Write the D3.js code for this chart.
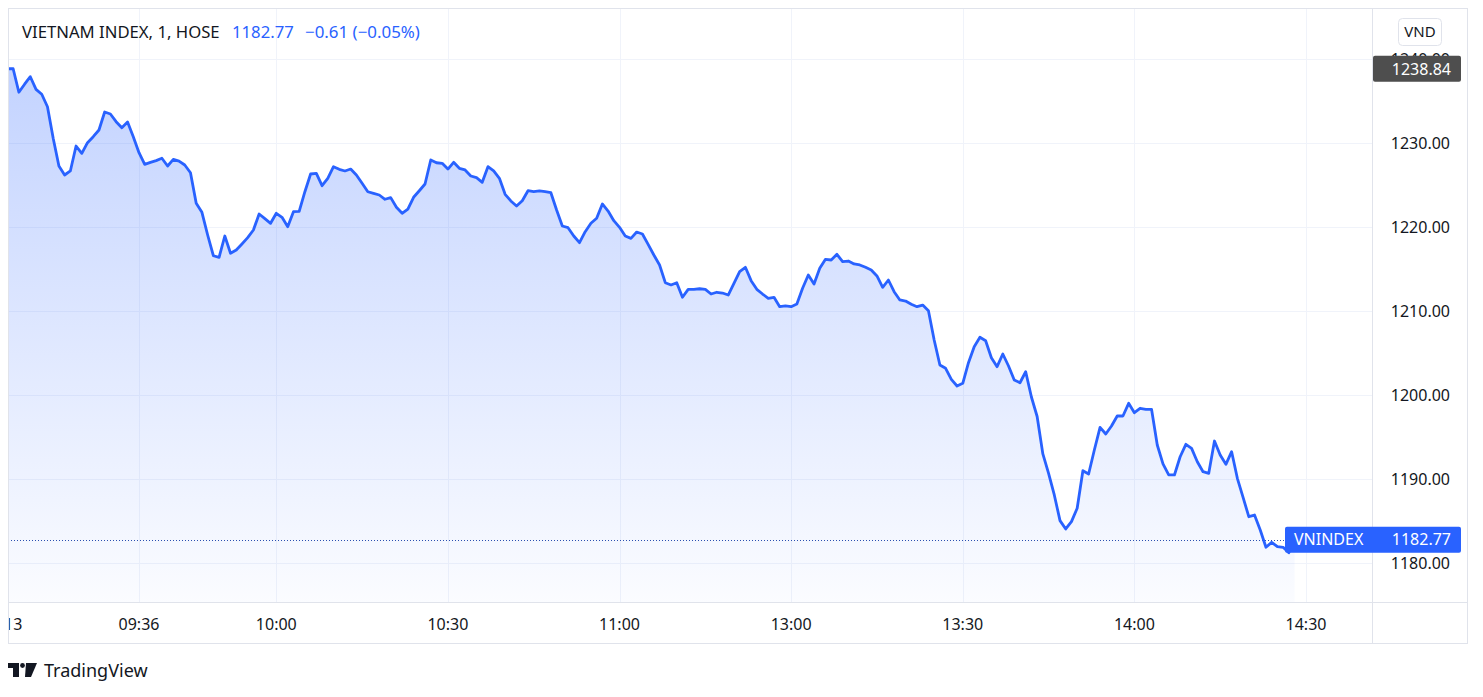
<!DOCTYPE html>
<html>
<head>
<meta charset="utf-8">
<script src="https://cdn.jsdelivr.net/npm/d3@7"></script>
<style>
  body { margin: 0; background: #fff; }
  svg { display: block; font-family: "Noto Sans", sans-serif; }
</style>
</head>
<body>
<svg id="chart" width="1483" height="697"></svg>
<script>
// --- DATA (1-minute bars, VNINDEX) ---
const times = [
  "09:13","09:14","09:15","09:16","09:17","09:18","09:19","09:20","09:21","09:22",
  "09:23","09:24","09:25","09:26","09:27","09:28","09:29","09:30","09:31","09:32",
  "09:33","09:34","09:35","09:36","09:37","09:38","09:39","09:40","09:41","09:42",
  "09:43","09:44","09:45","09:46","09:47","09:48","09:49","09:50","09:51","09:52",
  "09:53","09:54","09:55","09:56","09:57","09:58","09:59","10:00","10:01","10:02",
  "10:03","10:04","10:05","10:06","10:07","10:08","10:09","10:10","10:11","10:12",
  "10:13","10:14","10:15","10:16","10:17","10:18","10:19","10:20","10:21","10:22",
  "10:23","10:24","10:25","10:26","10:27","10:28","10:29","10:30","10:31","10:32",
  "10:33","10:34","10:35","10:36","10:37","10:38","10:39","10:40","10:41","10:42",
  "10:43","10:44","10:45","10:46","10:47","10:48","10:49","10:50","10:51","10:52",
  "10:53","10:54","10:55","10:56","10:57","10:58","10:59","11:00","11:01","11:02",
  "11:03","11:04","11:05","11:06","11:07","11:08","11:09","11:10","11:11","11:12",
  "11:13","11:14","11:15","11:16","11:17","11:18","11:19","11:20","11:21","11:22",
  "11:23","11:24","11:25","11:26","11:27","11:28","11:29",
  "13:00","13:01","13:02","13:03","13:04","13:05","13:06","13:07","13:08","13:09",
  "13:10","13:11","13:12","13:13","13:14","13:15","13:16","13:17","13:18","13:19",
  "13:20","13:21","13:22","13:23","13:24","13:25","13:26","13:27","13:28","13:29",
  "13:30","13:31","13:32","13:33","13:34","13:35","13:36","13:37","13:38","13:39",
  "13:40","13:41","13:42","13:43","13:44","13:45","13:46","13:47","13:48","13:49",
  "13:50","13:51","13:52","13:53","13:54","13:55","13:56","13:57","13:58","13:59",
  "14:00","14:01","14:02","14:03","14:04","14:05","14:06","14:07","14:08","14:09",
  "14:10","14:11","14:12","14:13","14:14","14:15","14:16","14:17","14:18","14:19",
  "14:20","14:21","14:22","14:23","14:24","14:25","14:26","14:27","14:28"
];
const values = [
  1238.84,1238.84,1236.04,1237.00,1237.89,1236.39,1235.80,1234.32,1230.56,1227.26,
  1226.19,1226.67,1229.64,1228.77,1230.04,1230.75,1231.55,1233.69,1233.45,1232.54,
  1231.82,1232.50,1230.75,1228.85,1227.46,1227.70,1227.90,1228.18,1227.26,1228.06,
  1227.85,1227.38,1226.46,1222.82,1221.75,1219.05,1216.58,1216.39,1218.93,1216.87,
  1217.26,1217.98,1218.73,1219.64,1221.55,1221.00,1220.44,1221.63,1221.15,1220.04,
  1221.82,1221.87,1224.20,1226.31,1226.39,1224.92,1225.80,1227.18,1226.87,1226.67,
  1226.90,1226.19,1225.20,1224.20,1224.00,1223.81,1223.30,1223.50,1222.35,1221.63,
  1222.14,1223.54,1224.32,1225.12,1227.98,1227.65,1227.58,1226.90,1227.70,1226.99,
  1226.79,1226.07,1225.87,1225.32,1227.18,1226.67,1225.80,1223.89,1223.10,1222.50,
  1223.13,1224.32,1224.20,1224.29,1224.20,1224.08,1222.02,1220.12,1219.92,1218.93,
  1218.13,1219.44,1220.44,1221.04,1222.74,1221.90,1220.75,1219.96,1218.93,1218.65,
  1219.40,1219.17,1217.94,1216.67,1215.48,1213.37,1213.10,1213.37,1211.63,1212.58,
  1212.58,1212.65,1212.58,1212.02,1212.23,1212.14,1211.90,1213.30,1214.68,1215.20,
  1213.61,1212.58,1212.02,1211.51,1211.63,1210.51,1210.60,
  1210.51,1210.83,1212.70,1214.29,1213.21,1215.08,1216.15,1216.07,1216.75,1215.87,
  1215.95,1215.60,1215.48,1215.20,1214.88,1214.17,1212.82,1213.69,1212.30,1211.31,
  1211.19,1210.80,1210.51,1210.71,1210.04,1206.55,1203.57,1203.18,1201.87,1201.07,
  1201.39,1203.85,1205.75,1206.87,1206.46,1204.44,1203.37,1204.88,1203.45,1201.79,
  1201.46,1202.77,1199.76,1197.44,1192.98,1190.68,1188.10,1185.04,1184.05,1184.92,
  1186.51,1190.99,1190.60,1193.45,1196.15,1195.36,1196.31,1197.50,1197.50,1199.01,
  1197.89,1198.42,1198.30,1198.30,1194.05,1191.79,1190.48,1190.48,1192.65,1194.13,
  1193.65,1192.06,1190.87,1190.68,1194.52,1192.86,1191.75,1193.25,1190.08,1187.82,
  1185.51,1185.71,1183.93,1181.87,1182.46,1181.94,1181.87,1181.23,1182.77
];
const tickTimes  = ["09:14","09:36","10:00","10:30","11:00","13:00","13:30","14:00","14:30"];
const tickLabels = ["13","09:36","10:00","10:30","11:00","13:00","13:30","14:00","14:30"];
const priceTicks = [1180, 1190, 1200, 1210, 1220, 1230, 1240];
const prevClose = 1238.84;
const lastPrice = 1182.77;
const change = "\u22120.61 (\u22120.05%)";

// --- LAYOUT ---
const pane = { left: 8, top: 8, right: 1372, bottom: 602 };
const frameRight = 1467, frameBottom = 643;
const blue = "#2962ff";
const textColor = "#131722";
const gridColor = "#f0f3fa";
const borderColor = "#e0e3eb";

// bar index: minutes after 09:13, lunch break (11:30-13:00) removed
function barIndex(t) {
  const [h, m] = t.split(":").map(Number);
  let mins = h * 60 + m - (9 * 60 + 13);
  if (h >= 13) mins -= 90;
  return mins;
}

const x = d3.scaleLinear()
  .domain([barIndex("09:36"), barIndex("14:30")])
  .range([139, 1306]);
const y = d3.scaleLinear().domain([1180, 1240]).range([563, 59]);

const data = times.map((t, i) => ({ b: barIndex(t), v: values[i] }));

const svg = d3.select("#chart");
const defs = svg.append("defs");

defs.append("clipPath").attr("id", "pane-clip")
  .append("rect")
  .attr("x", pane.left).attr("y", pane.top)
  .attr("width", pane.right - pane.left).attr("height", pane.bottom - pane.top);

defs.append("clipPath").attr("id", "time-clip")
  .append("rect")
  .attr("x", pane.left + 1).attr("y", pane.bottom)
  .attr("width", pane.right - pane.left - 1).attr("height", frameBottom - pane.bottom);

const grad = defs.append("linearGradient").attr("id", "area-grad")
  .attr("gradientUnits", "userSpaceOnUse")
  .attr("x1", 0).attr("x2", 0)
  .attr("y1", y(d3.max(values))).attr("y2", pane.bottom);
grad.append("stop").attr("offset", 0).attr("stop-color", blue).attr("stop-opacity", 0.28);
grad.append("stop").attr("offset", 1).attr("stop-color", blue).attr("stop-opacity", 0.02);

// --- GRID ---
const grid = svg.append("g").attr("clip-path", "url(#pane-clip)");
grid.selectAll("line.h").data(priceTicks).enter().append("line")
  .attr("x1", pane.left).attr("x2", pane.right)
  .attr("y1", d => y(d) + 0.5).attr("y2", d => y(d) + 0.5)
  .attr("stroke", gridColor);
grid.selectAll("line.v").data(tickTimes.slice(1)).enter().append("line")
  .attr("x1", d => Math.round(x(barIndex(d))) + 0.5)
  .attr("x2", d => Math.round(x(barIndex(d))) + 0.5)
  .attr("y1", pane.top).attr("y2", pane.bottom)
  .attr("stroke", gridColor);

// --- SERIES ---
const plot = svg.append("g").attr("clip-path", "url(#pane-clip)");
const area = d3.area()
  .x(d => x(d.b)).y0(pane.bottom).y1(d => y(d.v));
const line = d3.line()
  .x(d => x(d.b)).y(d => y(d.v));

plot.append("path").datum(data)
  .attr("d", area).attr("fill", "url(#area-grad)");

// last price dotted line
plot.append("line")
  .attr("x1", pane.left).attr("x2", 1285)
  .attr("y1", Math.round(y(lastPrice)) + 0.5).attr("y2", Math.round(y(lastPrice)) + 0.5)
  .attr("stroke", "#2a4fb0").attr("stroke-width", 1)
  .attr("stroke-dasharray", "1,2");

plot.append("path").datum(data)
  .attr("d", line).attr("fill", "none")
  .attr("stroke", blue).attr("stroke-width", 2.8)
  .attr("stroke-linejoin", "round").attr("stroke-linecap", "round");

// --- FRAME ---
const frame = svg.append("g").attr("stroke", borderColor).attr("fill", "none");
frame.append("rect")
  .attr("x", pane.left + 0.5).attr("y", pane.top + 0.5)
  .attr("width", frameRight - pane.left).attr("height", frameBottom - pane.top);
frame.append("line")
  .attr("x1", pane.left).attr("x2", frameRight)
  .attr("y1", pane.bottom + 0.5).attr("y2", pane.bottom + 0.5);
frame.append("line")
  .attr("x1", pane.right + 0.5).attr("x2", pane.right + 0.5)
  .attr("y1", pane.top).attr("y2", frameBottom);

// --- PRICE AXIS ---
const yAxis = svg.append("g")
  .attr("font-size", 16).attr("fill", textColor).attr("text-anchor", "end");
yAxis.selectAll("text").data(priceTicks).enter().append("text")
  .attr("x", 1450).attr("y", d => y(d))
  .attr("dy", "0.36em")
  .text(d => d.toFixed(2));

// previous close label (covers the 1240.00 tick, as in the original)
svg.append("rect")
  .attr("x", pane.right + 1).attr("y", y(prevClose) - 13)
  .attr("width", 88).attr("height", 26).attr("rx", 2)
  .attr("fill", "#4e4e4e");
svg.append("text")
  .attr("x", 1451).attr("y", y(prevClose)).attr("dy", "0.36em")
  .attr("text-anchor", "end").attr("font-size", 16).attr("fill", "#fff")
  .text(prevClose.toFixed(2));

// last price label
svg.append("rect")
  .attr("x", 1285).attr("y", y(lastPrice) - 13)
  .attr("width", 176).attr("height", 26).attr("rx", 2)
  .attr("fill", blue);
svg.append("text")
  .attr("x", 1294).attr("y", y(lastPrice)).attr("dy", "0.36em")
  .attr("font-size", 16).attr("fill", "#fff")
  .text("VNINDEX");
svg.append("text")
  .attr("x", 1451).attr("y", y(lastPrice)).attr("dy", "0.36em")
  .attr("text-anchor", "end").attr("font-size", 16).attr("fill", "#fff")
  .text(lastPrice.toFixed(2));

// currency badge
svg.append("rect")
  .attr("x", 1398.5).attr("y", 18.5).attr("width", 43).attr("height", 27).attr("rx", 4)
  .attr("fill", "#fff").attr("stroke", borderColor);
svg.append("text")
  .attr("x", 1420).attr("y", 32).attr("dy", "0.36em")
  .attr("text-anchor", "middle").attr("font-size", 15).attr("fill", textColor)
  .text("VND");

// --- TIME AXIS ---
const xAxis = svg.append("g").attr("clip-path", "url(#time-clip)")
  .attr("font-size", 16).attr("fill", textColor).attr("text-anchor", "middle");
xAxis.selectAll("text").data(tickTimes).enter().append("text")
  .attr("x", d => x(barIndex(d)))
  .attr("y", 624).attr("dy", "0.36em")
  .text((d, i) => tickLabels[i]);

// --- HEADER ---
svg.append("text")
  .attr("x", 22).attr("y", 38).attr("font-size", 16.7).attr("fill", textColor)
  .text("VIETNAM INDEX, 1, HOSE");
svg.append("text")
  .attr("x", 232).attr("y", 38).attr("font-size", 16.7).attr("fill", blue)
  .text(lastPrice.toFixed(2));
svg.append("text")
  .attr("x", 305).attr("y", 38).attr("font-size", 16.9).attr("fill", blue)
  .text(change);

// --- TRADINGVIEW MARK ---
const logo = svg.append("g").attr("fill", textColor);
logo.append("path").attr("d", "M8,663 H19 V677 H13 V668 H8 Z");
logo.append("circle").attr("cx", 22.5).attr("cy", 665.5).attr("r", 2.4);
logo.append("path").attr("d", "M26,663 H37 L31,677 H25 Z");
svg.append("text")
  .attr("x", 44).attr("y", 677).attr("font-size", 18).attr("fill", textColor)
  .text("TradingView");
</script>
</body>
</html>
